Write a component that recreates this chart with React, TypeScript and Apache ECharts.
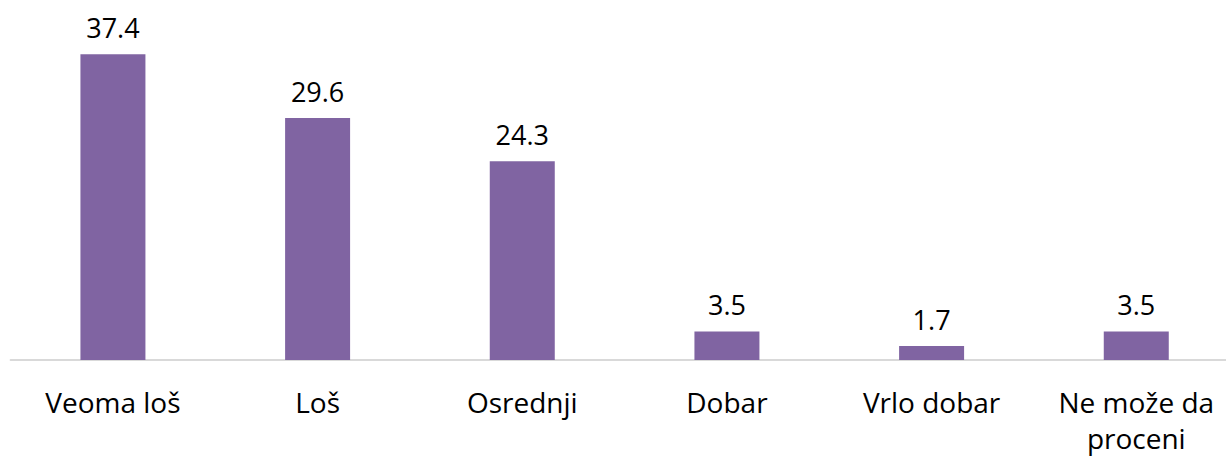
import React, { useEffect, useRef } from "react";
import * as echarts from "echarts";

const categories = ["Veoma loš", "Loš", "Osrednji", "Dobar", "Vrlo dobar", "Ne može da\nproceni"];
const values = [37.4, 29.6, 24.3, 3.5, 1.7, 3.5];

export default function App() {
  const ref = useRef<HTMLDivElement>(null);
  useEffect(() => {
    const chart = echarts.init(ref.current!, null, { renderer: "svg" });
    chart.setOption({
      animation: false,
      grid: {
        left: 10.6,
        top: 33,
        width: 1228,
        height: 327,
        containLabel: false,
        outerBoundsMode: "none",
      },
      xAxis: {
        type: "category",
        data: categories,
        axisLine: { lineStyle: { color: "#d9d9d9", width: 2 } },
        axisTick: { show: false },
        axisLabel: {
          color: "#000",
          fontFamily: "Open Sans",
          fontSize: 28,
          lineHeight: 36,
          margin: 24,
          interval: 0,
        },
      },
      yAxis: { type: "value", min: 0, max: 40, show: false, splitLine: { show: false } },
      series: [
        {
          type: "bar",
          data: values,
          barWidth: 65,
          itemStyle: { color: "#8064A2" },
          label: {
            show: true,
            position: "top",
            distance: 13,
            color: "#000",
            fontFamily: "Open Sans",
            fontSize: 27,
            formatter: (p: any) => p.value.toFixed(1),
          },
        },
      ],
    });
    return () => chart.dispose();
  }, []);
  return (
    <div
      ref={ref}
      style={{ position: "absolute", left: 0, top: 0, width: 1226, height: 458 }}
    />
  );
}
